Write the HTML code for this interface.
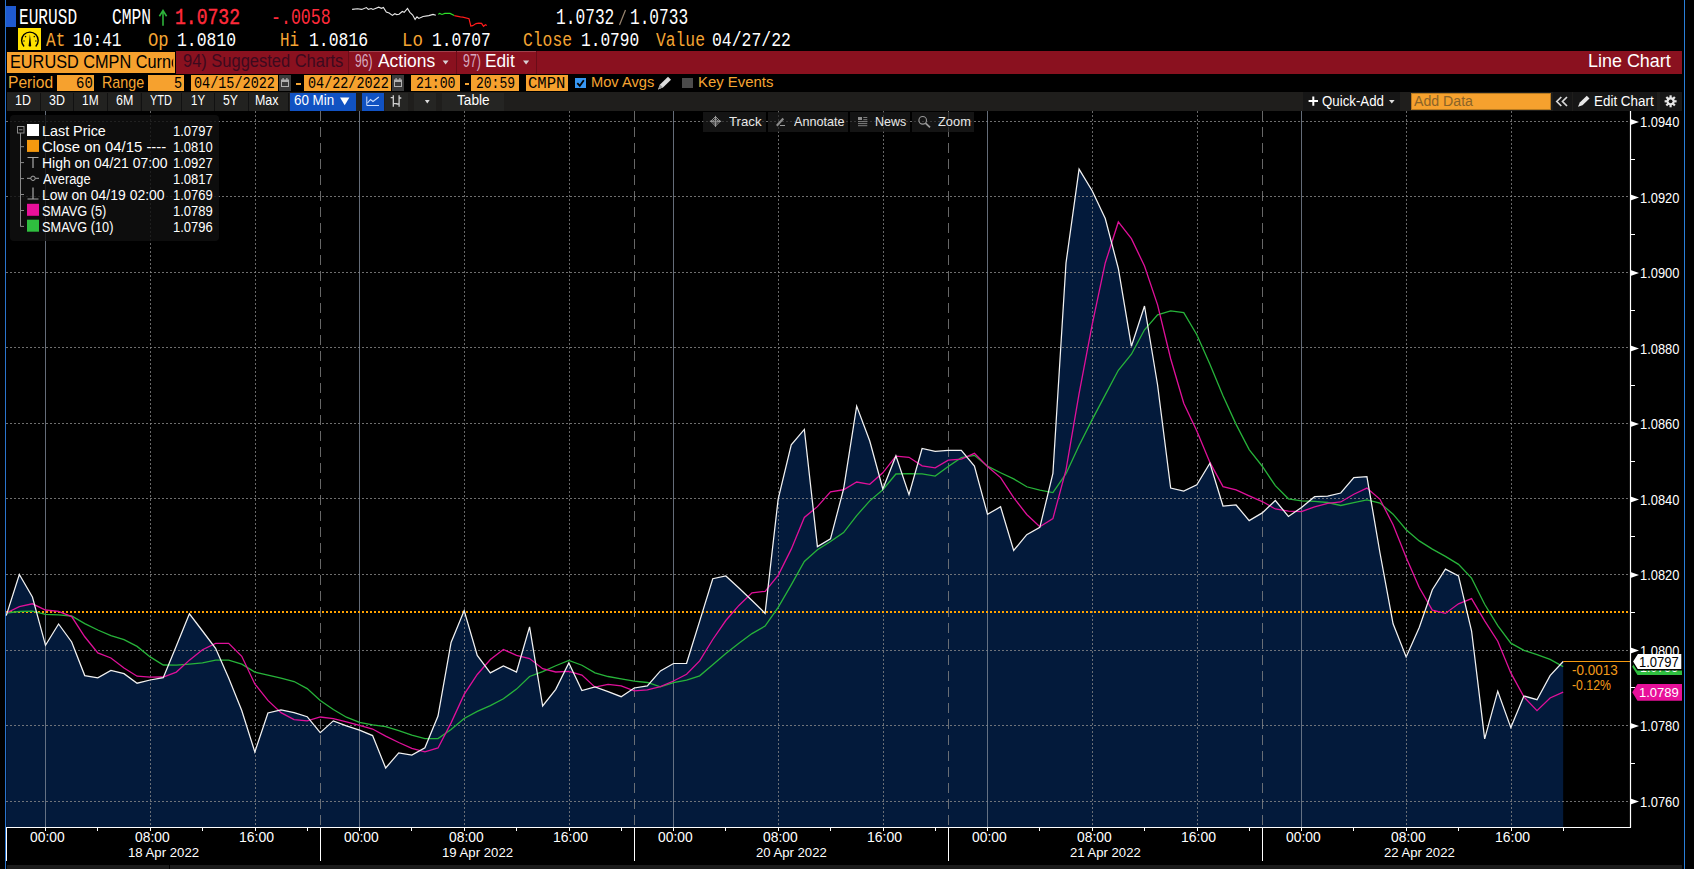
<!DOCTYPE html><html><head><meta charset="utf-8"><style>
html,body{margin:0;padding:0;background:#000;}
body{width:1694px;height:869px;position:relative;overflow:hidden;}
.r{position:absolute;}
.t{position:absolute;line-height:1;white-space:pre;transform-origin:0 0;}
</style></head><body>
<div class="r" style="left:6px;top:6px;width:10px;height:21px;background:#1f5ad0;"></div><div class="r" style="left:18px;top:28px;width:23px;height:22px;background:#ffe100;"></div><div class="r" style="left:7px;top:52px;width:168px;height:21px;background:#f6a12e;"></div><div class="r" style="left:176px;top:51px;width:1506px;height:23px;background:#8a111f;"></div><div class="r" style="left:348px;top:51px;width:1px;height:23px;background:#6a0c18;"></div><div class="r" style="left:456px;top:51px;width:1px;height:23px;background:#6a0c18;"></div><div class="r" style="left:536px;top:51px;width:1px;height:23px;background:#6a0c18;"></div><div class="r" style="left:349px;top:51px;width:107px;height:1px;background:#a0404c;"></div><div class="r" style="left:457px;top:51px;width:79px;height:1px;background:#a0404c;"></div><div class="r" style="left:57px;top:75px;width:37px;height:16px;background:#f6a12e;"></div><div class="r" style="left:148px;top:75px;width:36px;height:16px;background:#f6a12e;"></div><div class="r" style="left:191px;top:75px;width:87px;height:16px;background:#f6a12e;"></div><div class="r" style="left:304px;top:75px;width:87px;height:16px;background:#f6a12e;"></div><div class="r" style="left:411px;top:75px;width:49px;height:16px;background:#f6a12e;"></div><div class="r" style="left:471px;top:75px;width:48px;height:16px;background:#f6a12e;"></div><div class="r" style="left:526px;top:75px;width:42px;height:16px;background:#f6a12e;"></div><div class="r" style="left:279px;top:75px;width:12px;height:16px;background:#3b3b3b;"></div><div class="r" style="left:392px;top:75px;width:12px;height:16px;background:#3b3b3b;"></div><div class="r" style="left:296px;top:83px;width:5px;height:1.5px;background:#f5a533;"></div><div class="r" style="left:464.5px;top:83px;width:4.5px;height:1.5px;background:#f5a533;"></div><div class="r" style="left:575px;top:78px;width:11px;height:10px;background:#3797f2;"></div><div class="r" style="left:682px;top:78px;width:11px;height:10px;background:#4b4b4b;"></div><div class="r" style="left:7px;top:92px;width:1675px;height:19px;background:#1f1e1c;"></div><div class="r" style="left:7px;top:93px;width:32.6px;height:17.5px;background:#222220;"></div><div class="r" style="left:40.6px;top:93px;width:31.999999999999993px;height:17.5px;background:#222220;"></div><div class="r" style="left:73.6px;top:93px;width:33.2px;height:17.5px;background:#222220;"></div><div class="r" style="left:107.8px;top:93px;width:32.7px;height:17.5px;background:#222220;"></div><div class="r" style="left:141.5px;top:93px;width:39.69999999999999px;height:17.5px;background:#222220;"></div><div class="r" style="left:182.2px;top:93px;width:32.0px;height:17.5px;background:#222220;"></div><div class="r" style="left:215.2px;top:93px;width:32.70000000000002px;height:17.5px;background:#222220;"></div><div class="r" style="left:248.9px;top:93px;width:39.099999999999994px;height:17.5px;background:#222220;"></div><div class="r" style="left:39.6px;top:93px;width:1.0px;height:17.5px;background:#111;"></div><div class="r" style="left:72.6px;top:93px;width:1.0px;height:17.5px;background:#111;"></div><div class="r" style="left:106.8px;top:93px;width:1.0px;height:17.5px;background:#111;"></div><div class="r" style="left:140.5px;top:93px;width:1.0px;height:17.5px;background:#111;"></div><div class="r" style="left:181.2px;top:93px;width:1.0px;height:17.5px;background:#111;"></div><div class="r" style="left:214.2px;top:93px;width:1.0px;height:17.5px;background:#111;"></div><div class="r" style="left:247.9px;top:93px;width:1.0px;height:17.5px;background:#111;"></div><div class="r" style="left:288px;top:93px;width:1px;height:17.5px;background:#111;"></div><div class="r" style="left:290px;top:93px;width:66px;height:17.5px;background:#1152c2;"></div><div class="r" style="left:362px;top:93px;width:22px;height:17.5px;background:#1152c2;"></div><div class="r" style="left:385px;top:93px;width:23.399999999999977px;height:17.5px;background:#252523;"></div><div class="r" style="left:413.7px;top:93px;width:22.400000000000034px;height:17.5px;background:#252523;"></div><div class="r" style="left:442.3px;top:93px;width:61.69999999999999px;height:17.5px;background:#252523;"></div><div class="r" style="left:1303px;top:92px;width:97.29999999999995px;height:19px;background:#161616;"></div><div class="r" style="left:1411.2px;top:93px;width:139.39999999999986px;height:16.5px;background:#f6a12e;box-shadow:inset 0 0 0 1px #b87a20"></div><div class="r" style="left:1552.5px;top:92px;width:19.09999999999991px;height:19px;background:#161616;"></div><div class="r" style="left:1572.8px;top:92px;width:84.70000000000005px;height:19px;background:#161616;"></div><div class="r" style="left:1660px;top:92px;width:22px;height:19px;background:#161616;"></div><div class="r" style="left:5px;top:0px;width:1px;height:869px;background:#2a74cc;"></div><div class="r" style="left:1684px;top:0px;width:1px;height:869px;background:#2a7fd8;"></div><div class="r" style="left:7px;top:865px;width:162px;height:4px;background:#1c1c1c;"></div><div class="r" style="left:170px;top:865px;width:1512px;height:4px;background:#1c1c1c;"></div>
<svg class="r" style="left:0;top:0" width="1694" height="869" viewBox="0 0 1694 869"><polygon points="6.25,827 6.25,615.60 19.33,574.50 32.42,597.00 45.50,645.30 58.58,624.00 71.67,642.00 84.75,675.60 97.83,677.90 110.92,670.50 124.00,673.70 137.08,683.20 150.17,680.00 163.25,677.70 176.33,645.90 189.42,613.80 202.50,631.00 215.58,648.30 228.67,678.00 241.75,710.50 254.83,752.00 267.92,713.00 281.00,709.90 294.08,712.60 307.17,716.70 320.25,732.70 333.33,720.90 346.42,725.90 359.50,730.10 372.58,735.60 385.67,768.00 398.75,752.90 411.83,755.00 424.92,747.70 438.00,716.10 451.08,642.50 464.17,610.60 477.25,655.40 490.33,672.90 503.42,665.90 516.50,672.00 529.58,626.80 542.67,706.00 555.75,689.30 568.83,663.00 581.92,690.60 595.00,686.90 608.08,691.70 621.17,696.70 634.25,688.00 647.33,685.80 660.42,670.90 673.50,663.50 686.58,663.30 699.67,621.10 712.75,578.70 725.83,576.00 738.92,588.00 752.00,600.50 765.08,613.30 778.17,499.00 791.25,444.90 804.33,429.40 817.42,546.60 830.50,538.90 843.58,489.00 856.67,406.10 869.75,441.00 882.83,489.00 895.92,455.90 909.00,494.60 922.08,448.50 935.17,451.30 948.25,450.40 961.33,450.40 974.42,466.00 987.50,514.40 1000.58,506.80 1013.67,550.50 1026.75,534.70 1039.83,527.40 1052.92,473.50 1066.00,263.00 1079.08,169.10 1092.17,190.70 1105.25,218.50 1118.33,268.50 1131.42,346.30 1144.50,306.00 1157.58,385.00 1170.67,488.00 1183.75,491.00 1196.83,484.70 1209.92,463.20 1223.00,506.00 1236.08,505.00 1249.17,520.60 1262.25,512.90 1275.33,500.50 1288.42,516.40 1301.50,507.50 1314.58,496.70 1327.67,496.20 1340.75,493.00 1353.83,477.70 1366.92,476.60 1380.00,553.00 1393.08,623.80 1406.17,656.90 1419.25,627.50 1432.33,589.70 1445.42,569.10 1458.50,575.90 1471.58,631.00 1484.67,738.80 1497.75,691.20 1510.83,727.60 1523.92,696.00 1537.00,699.70 1550.08,675.60 1563.17,661.50 1563.17,827" fill="#031a3b"/><line x1="6" y1="801.5" x2="1630" y2="801.5" stroke="#8a8a8a" stroke-width="1" stroke-dasharray="2,2" opacity="0.8"/><line x1="6" y1="725.5" x2="1630" y2="725.5" stroke="#8a8a8a" stroke-width="1" stroke-dasharray="2,2" opacity="0.8"/><line x1="6" y1="650.5" x2="1630" y2="650.5" stroke="#8a8a8a" stroke-width="1" stroke-dasharray="2,2" opacity="0.8"/><line x1="6" y1="574.5" x2="1630" y2="574.5" stroke="#8a8a8a" stroke-width="1" stroke-dasharray="2,2" opacity="0.8"/><line x1="6" y1="498.5" x2="1630" y2="498.5" stroke="#8a8a8a" stroke-width="1" stroke-dasharray="2,2" opacity="0.8"/><line x1="6" y1="423.5" x2="1630" y2="423.5" stroke="#8a8a8a" stroke-width="1" stroke-dasharray="2,2" opacity="0.8"/><line x1="6" y1="347.5" x2="1630" y2="347.5" stroke="#8a8a8a" stroke-width="1" stroke-dasharray="2,2" opacity="0.8"/><line x1="6" y1="272.5" x2="1630" y2="272.5" stroke="#8a8a8a" stroke-width="1" stroke-dasharray="2,2" opacity="0.8"/><line x1="6" y1="196.5" x2="1630" y2="196.5" stroke="#8a8a8a" stroke-width="1" stroke-dasharray="2,2" opacity="0.8"/><line x1="6" y1="121.5" x2="1630" y2="121.5" stroke="#8a8a8a" stroke-width="1" stroke-dasharray="2,2" opacity="0.8"/><line x1="45.5" y1="111" x2="45.5" y2="827" stroke="#7d8796" stroke-width="1" opacity="0.8"/><line x1="150.5" y1="111" x2="150.5" y2="827" stroke="#8a8a8a" stroke-width="1" stroke-dasharray="2,2" opacity="0.75"/><line x1="255.5" y1="111" x2="255.5" y2="827" stroke="#8a8a8a" stroke-width="1" stroke-dasharray="2,2" opacity="0.75"/><line x1="359.5" y1="111" x2="359.5" y2="827" stroke="#7d8796" stroke-width="1" opacity="0.8"/><line x1="464.5" y1="111" x2="464.5" y2="827" stroke="#8a8a8a" stroke-width="1" stroke-dasharray="2,2" opacity="0.75"/><line x1="569.5" y1="111" x2="569.5" y2="827" stroke="#8a8a8a" stroke-width="1" stroke-dasharray="2,2" opacity="0.75"/><line x1="673.5" y1="111" x2="673.5" y2="827" stroke="#7d8796" stroke-width="1" opacity="0.8"/><line x1="778.5" y1="111" x2="778.5" y2="827" stroke="#8a8a8a" stroke-width="1" stroke-dasharray="2,2" opacity="0.75"/><line x1="883.5" y1="111" x2="883.5" y2="827" stroke="#8a8a8a" stroke-width="1" stroke-dasharray="2,2" opacity="0.75"/><line x1="987.5" y1="111" x2="987.5" y2="827" stroke="#7d8796" stroke-width="1" opacity="0.8"/><line x1="1092.5" y1="111" x2="1092.5" y2="827" stroke="#8a8a8a" stroke-width="1" stroke-dasharray="2,2" opacity="0.75"/><line x1="1197.5" y1="111" x2="1197.5" y2="827" stroke="#8a8a8a" stroke-width="1" stroke-dasharray="2,2" opacity="0.75"/><line x1="1301.5" y1="111" x2="1301.5" y2="827" stroke="#7d8796" stroke-width="1" opacity="0.8"/><line x1="1406.5" y1="111" x2="1406.5" y2="827" stroke="#8a8a8a" stroke-width="1" stroke-dasharray="2,2" opacity="0.75"/><line x1="1511.5" y1="111" x2="1511.5" y2="827" stroke="#8a8a8a" stroke-width="1" stroke-dasharray="2,2" opacity="0.75"/><line x1="320.5" y1="111" x2="320.5" y2="827" stroke="#8a8a8a" stroke-width="1" stroke-dasharray="10,6" opacity="0.75"/><line x1="634.5" y1="111" x2="634.5" y2="827" stroke="#8a8a8a" stroke-width="1" stroke-dasharray="10,6" opacity="0.75"/><line x1="948.5" y1="111" x2="948.5" y2="827" stroke="#8a8a8a" stroke-width="1" stroke-dasharray="10,6" opacity="0.75"/><line x1="1262.5" y1="111" x2="1262.5" y2="827" stroke="#8a8a8a" stroke-width="1" stroke-dasharray="10,6" opacity="0.75"/><line x1="6" y1="612" x2="1630" y2="612" stroke="#ffa200" stroke-width="2" stroke-dasharray="2,2"/><polyline points="6.25,613.00 19.33,611.50 32.42,611.20 45.50,614.40 58.58,614.80 71.67,616.00 84.75,623.60 97.83,630.00 110.92,635.70 124.00,639.61 137.08,646.37 150.17,656.92 163.25,664.99 176.33,665.05 189.42,664.03 202.50,662.93 215.58,660.20 228.67,660.21 241.75,664.21 254.83,672.04 267.92,675.02 281.00,678.01 294.08,681.50 307.17,688.58 320.25,700.47 333.33,709.46 346.42,717.22 359.50,722.43 372.58,724.94 385.67,726.54 398.75,730.53 411.83,735.04 424.92,738.55 438.00,738.49 451.08,729.47 464.17,718.44 477.25,711.39 490.33,705.67 503.42,698.70 516.50,689.10 529.58,676.49 542.67,671.59 555.75,665.75 568.83,660.44 581.92,665.25 595.00,672.88 608.08,676.51 621.17,678.89 634.25,681.10 647.33,682.48 660.42,686.89 673.50,682.64 686.58,680.04 699.67,675.85 712.75,664.66 725.83,653.57 738.92,643.20 752.00,633.58 765.08,626.11 778.17,607.43 791.25,584.83 804.33,561.42 817.42,549.75 830.50,541.53 843.58,532.56 856.67,515.57 869.75,500.87 882.83,489.72 895.92,473.98 909.00,473.54 922.08,473.90 935.17,476.09 948.25,466.47 961.33,457.62 974.42,455.32 987.50,466.15 1000.58,472.73 1013.67,478.88 1026.75,486.76 1039.83,490.04 1052.92,492.54 1066.00,473.71 1079.08,445.58 1092.17,419.61 1105.25,394.86 1118.33,370.27 1131.42,354.22 1144.50,329.77 1157.58,314.80 1170.67,310.86 1183.75,312.61 1196.83,334.78 1209.92,364.19 1223.00,395.72 1236.08,424.37 1249.17,449.58 1262.25,466.24 1275.33,485.69 1288.42,498.83 1301.50,500.78 1314.58,501.35 1327.67,502.50 1340.75,505.48 1353.83,502.65 1366.92,499.81 1380.00,503.05 1393.08,514.14 1406.17,529.78 1419.25,540.89 1432.33,549.11 1445.42,556.35 1458.50,564.32 1471.58,578.12 1484.67,604.23 1497.75,625.69 1510.83,643.15 1523.92,650.37 1537.00,654.65 1550.08,659.46 1563.17,666.64" fill="none" stroke="#27b33a" stroke-width="1.3"/><polyline points="6.25,613.00 19.33,606.70 32.42,603.80 45.50,610.00 58.58,611.28 71.67,616.56 84.75,636.78 97.83,652.96 110.92,658.00 124.00,667.94 137.08,676.18 150.17,677.06 163.25,677.02 176.33,672.10 189.42,660.12 202.50,649.68 215.58,643.34 228.67,643.40 241.75,656.32 254.83,683.96 267.92,700.36 281.00,712.68 294.08,719.60 307.17,720.84 320.25,716.98 333.33,718.56 346.42,721.76 359.50,725.26 372.58,729.04 385.67,736.10 398.75,742.50 411.83,748.32 424.92,751.84 438.00,747.94 451.08,722.84 464.17,694.38 477.25,674.46 490.33,659.50 503.42,649.46 516.50,655.36 529.58,658.60 542.67,668.72 555.75,672.00 568.83,671.42 581.92,675.14 595.00,687.16 608.08,684.30 621.17,685.78 634.25,690.78 647.33,689.82 660.42,686.62 673.50,680.98 686.58,674.30 699.67,660.92 712.75,639.50 725.83,620.52 738.92,605.42 752.00,592.86 765.08,591.30 778.17,575.36 791.25,549.14 804.33,517.42 817.42,506.64 830.50,491.76 843.58,489.76 856.67,482.00 869.75,484.32 882.83,472.80 895.92,456.20 909.00,457.32 922.08,465.80 935.17,467.86 948.25,460.14 961.33,459.04 974.42,453.32 987.50,466.50 1000.58,477.60 1013.67,497.62 1026.75,514.48 1039.83,526.76 1052.92,518.58 1066.00,469.82 1079.08,393.54 1092.17,324.74 1105.25,262.96 1118.33,221.96 1131.42,238.62 1144.50,266.00 1157.58,304.86 1170.67,358.76 1183.75,403.26 1196.83,430.94 1209.92,462.38 1223.00,486.58 1236.08,489.98 1249.17,495.90 1262.25,501.54 1275.33,509.00 1288.42,511.08 1301.50,511.58 1314.58,506.80 1327.67,503.46 1340.75,501.96 1353.83,494.22 1366.92,488.04 1380.00,499.30 1393.08,524.82 1406.17,557.60 1419.25,587.56 1432.33,610.18 1445.42,613.40 1458.50,603.82 1471.58,598.64 1484.67,620.90 1497.75,641.20 1510.83,672.90 1523.92,696.92 1537.00,710.66 1550.08,698.02 1563.17,692.08" fill="none" stroke="#e0109a" stroke-width="1.3"/><polyline points="6.25,615.60 19.33,574.50 32.42,597.00 45.50,645.30 58.58,624.00 71.67,642.00 84.75,675.60 97.83,677.90 110.92,670.50 124.00,673.70 137.08,683.20 150.17,680.00 163.25,677.70 176.33,645.90 189.42,613.80 202.50,631.00 215.58,648.30 228.67,678.00 241.75,710.50 254.83,752.00 267.92,713.00 281.00,709.90 294.08,712.60 307.17,716.70 320.25,732.70 333.33,720.90 346.42,725.90 359.50,730.10 372.58,735.60 385.67,768.00 398.75,752.90 411.83,755.00 424.92,747.70 438.00,716.10 451.08,642.50 464.17,610.60 477.25,655.40 490.33,672.90 503.42,665.90 516.50,672.00 529.58,626.80 542.67,706.00 555.75,689.30 568.83,663.00 581.92,690.60 595.00,686.90 608.08,691.70 621.17,696.70 634.25,688.00 647.33,685.80 660.42,670.90 673.50,663.50 686.58,663.30 699.67,621.10 712.75,578.70 725.83,576.00 738.92,588.00 752.00,600.50 765.08,613.30 778.17,499.00 791.25,444.90 804.33,429.40 817.42,546.60 830.50,538.90 843.58,489.00 856.67,406.10 869.75,441.00 882.83,489.00 895.92,455.90 909.00,494.60 922.08,448.50 935.17,451.30 948.25,450.40 961.33,450.40 974.42,466.00 987.50,514.40 1000.58,506.80 1013.67,550.50 1026.75,534.70 1039.83,527.40 1052.92,473.50 1066.00,263.00 1079.08,169.10 1092.17,190.70 1105.25,218.50 1118.33,268.50 1131.42,346.30 1144.50,306.00 1157.58,385.00 1170.67,488.00 1183.75,491.00 1196.83,484.70 1209.92,463.20 1223.00,506.00 1236.08,505.00 1249.17,520.60 1262.25,512.90 1275.33,500.50 1288.42,516.40 1301.50,507.50 1314.58,496.70 1327.67,496.20 1340.75,493.00 1353.83,477.70 1366.92,476.60 1380.00,553.00 1393.08,623.80 1406.17,656.90 1419.25,627.50 1432.33,589.70 1445.42,569.10 1458.50,575.90 1471.58,631.00 1484.67,738.80 1497.75,691.20 1510.83,727.60 1523.92,696.00 1537.00,699.70 1550.08,675.60 1563.17,661.50" fill="none" stroke="#f2f2f2" stroke-width="1.25"/><line x1="1563.17" y1="661.5" x2="1630" y2="661.5" stroke="#f59a10" stroke-width="1.2"/><line x1="1630.5" y1="111" x2="1630.5" y2="827.5" stroke="#fff" stroke-width="1.2"/><line x1="6" y1="827.5" x2="1631" y2="827.5" stroke="#fff" stroke-width="1.2"/><polygon points="1630.5,798.5 1639,801.5 1630.5,804.5" fill="#fff"/><polygon points="1630.5,723.0 1639,726.0 1630.5,729.0" fill="#fff"/><polygon points="1630.5,647.5 1639,650.5 1630.5,653.5" fill="#fff"/><polygon points="1630.5,572.0 1639,575.0 1630.5,578.0" fill="#fff"/><polygon points="1630.5,496.5 1639,499.5 1630.5,502.5" fill="#fff"/><polygon points="1630.5,421.0 1639,424.0 1630.5,427.0" fill="#fff"/><polygon points="1630.5,345.5 1639,348.5 1630.5,351.5" fill="#fff"/><polygon points="1630.5,270.0 1639,273.0 1630.5,276.0" fill="#fff"/><polygon points="1630.5,194.5 1639,197.5 1630.5,200.5" fill="#fff"/><polygon points="1630.5,119.0 1639,122.0 1630.5,125.0" fill="#fff"/><line x1="1630" y1="763.5" x2="1635" y2="763.5" stroke="#fff" stroke-width="1"/><line x1="1630" y1="687.5" x2="1635" y2="687.5" stroke="#fff" stroke-width="1"/><line x1="1630" y1="612.5" x2="1635" y2="612.5" stroke="#fff" stroke-width="1"/><line x1="1630" y1="536.5" x2="1635" y2="536.5" stroke="#fff" stroke-width="1"/><line x1="1630" y1="461.5" x2="1635" y2="461.5" stroke="#fff" stroke-width="1"/><line x1="1630" y1="385.5" x2="1635" y2="385.5" stroke="#fff" stroke-width="1"/><line x1="1630" y1="310.5" x2="1635" y2="310.5" stroke="#fff" stroke-width="1"/><line x1="1630" y1="234.5" x2="1635" y2="234.5" stroke="#fff" stroke-width="1"/><line x1="1630" y1="159.5" x2="1635" y2="159.5" stroke="#fff" stroke-width="1"/><line x1="45.5" y1="827" x2="45.5" y2="831" stroke="#fff" stroke-width="1"/><line x1="97.5" y1="827" x2="97.5" y2="831" stroke="#fff" stroke-width="1"/><line x1="150.5" y1="827" x2="150.5" y2="831" stroke="#fff" stroke-width="1"/><line x1="202.5" y1="827" x2="202.5" y2="831" stroke="#fff" stroke-width="1"/><line x1="255.5" y1="827" x2="255.5" y2="831" stroke="#fff" stroke-width="1"/><line x1="307.5" y1="827" x2="307.5" y2="831" stroke="#fff" stroke-width="1"/><line x1="359.5" y1="827" x2="359.5" y2="831" stroke="#fff" stroke-width="1"/><line x1="411.5" y1="827" x2="411.5" y2="831" stroke="#fff" stroke-width="1"/><line x1="464.5" y1="827" x2="464.5" y2="831" stroke="#fff" stroke-width="1"/><line x1="516.5" y1="827" x2="516.5" y2="831" stroke="#fff" stroke-width="1"/><line x1="569.5" y1="827" x2="569.5" y2="831" stroke="#fff" stroke-width="1"/><line x1="621.5" y1="827" x2="621.5" y2="831" stroke="#fff" stroke-width="1"/><line x1="673.5" y1="827" x2="673.5" y2="831" stroke="#fff" stroke-width="1"/><line x1="725.5" y1="827" x2="725.5" y2="831" stroke="#fff" stroke-width="1"/><line x1="778.5" y1="827" x2="778.5" y2="831" stroke="#fff" stroke-width="1"/><line x1="830.5" y1="827" x2="830.5" y2="831" stroke="#fff" stroke-width="1"/><line x1="883.5" y1="827" x2="883.5" y2="831" stroke="#fff" stroke-width="1"/><line x1="935.5" y1="827" x2="935.5" y2="831" stroke="#fff" stroke-width="1"/><line x1="987.5" y1="827" x2="987.5" y2="831" stroke="#fff" stroke-width="1"/><line x1="1039.5" y1="827" x2="1039.5" y2="831" stroke="#fff" stroke-width="1"/><line x1="1092.5" y1="827" x2="1092.5" y2="831" stroke="#fff" stroke-width="1"/><line x1="1144.5" y1="827" x2="1144.5" y2="831" stroke="#fff" stroke-width="1"/><line x1="1197.5" y1="827" x2="1197.5" y2="831" stroke="#fff" stroke-width="1"/><line x1="1249.5" y1="827" x2="1249.5" y2="831" stroke="#fff" stroke-width="1"/><line x1="1301.5" y1="827" x2="1301.5" y2="831" stroke="#fff" stroke-width="1"/><line x1="1353.5" y1="827" x2="1353.5" y2="831" stroke="#fff" stroke-width="1"/><line x1="1406.5" y1="827" x2="1406.5" y2="831" stroke="#fff" stroke-width="1"/><line x1="1458.5" y1="827" x2="1458.5" y2="831" stroke="#fff" stroke-width="1"/><line x1="1511.5" y1="827" x2="1511.5" y2="831" stroke="#fff" stroke-width="1"/><line x1="1563.5" y1="827" x2="1563.5" y2="831" stroke="#fff" stroke-width="1"/><line x1="6.5" y1="827" x2="6.5" y2="861" stroke="#fff" stroke-width="1"/><line x1="320.5" y1="827" x2="320.5" y2="861" stroke="#fff" stroke-width="1"/><line x1="634.5" y1="827" x2="634.5" y2="861" stroke="#fff" stroke-width="1"/><line x1="948.5" y1="827" x2="948.5" y2="861" stroke="#fff" stroke-width="1"/><line x1="1262.5" y1="827" x2="1262.5" y2="861" stroke="#fff" stroke-width="1"/><polygon points="1632.2,666.8 1637.5,658.5 1682,658.5 1682,675.0 1637.5,675.0" fill="#2fbf3f" /><text x="1640" y="672.3" font-family="Liberation Sans" font-size="13.6" fill="#fff" textLength="38" lengthAdjust="spacingAndGlyphs">1.0796</text><polygon points="1632.2,661.5 1637.5,653.3 1682,653.3 1682,669.8 1637.5,669.8" fill="#ffffff" stroke="#000" stroke-width="1.4"/><polygon points="1632.2,692.3 1637.5,683.9 1682,683.9 1682,700.8 1637.5,700.8" fill="#e8109a" /></svg>
<div class="r" style="left:10px;top:115px;width:209px;height:126px;background:rgba(16,16,16,0.82);border-radius:4px"></div><div class="r" style="left:702.9px;top:112.2px;width:63.10000000000002px;height:19.6px;background:rgba(30,30,30,0.68)"></div><div class="r" style="left:768px;top:112.2px;width:79.79999999999995px;height:19.6px;background:rgba(30,30,30,0.68)"></div><div class="r" style="left:850.3px;top:112.2px;width:59.5px;height:19.6px;background:rgba(30,30,30,0.68)"></div><div class="r" style="left:912.1px;top:112.2px;width:62.0px;height:19.6px;background:rgba(30,30,30,0.68)"></div>
<div class="t" style="left:18.71px;top:7.83px;font-family:'Liberation Mono';font-size:21.67px;font-weight:400;color:#fff;transform:scaleX(0.7448);">EURUSD</div><div class="t" style="left:112.19px;top:7.83px;font-family:'Liberation Mono';font-size:21.67px;font-weight:400;color:#fff;transform:scaleX(0.7523);">CMPN</div><div class="t" style="left:175.24px;top:7.83px;font-family:'Liberation Mono';font-size:21.67px;font-weight:400;color:#ff2b3b;transform:scaleX(0.8337);-webkit-text-stroke:0.45px #ff2b3b;">1.0732</div><div class="t" style="left:271.35px;top:7.83px;font-family:'Liberation Mono';font-size:21.67px;font-weight:400;color:#ff2b3b;transform:scaleX(0.7647);">-.0058</div><div class="t" style="left:556.17px;top:7.83px;font-family:'Liberation Mono';font-size:21.67px;font-weight:400;color:#fff;transform:scaleX(0.7483);">1.0732</div><div class="t" style="left:629.87px;top:7.83px;font-family:'Liberation Mono';font-size:21.67px;font-weight:400;color:#fff;transform:scaleX(0.7448);">1.0733</div><div class="t" style="left:45.50px;top:30.91px;font-family:'Liberation Mono';font-size:20.91px;font-weight:400;color:#f5a533;transform:scaleX(0.7696);">At</div><div class="t" style="left:72.67px;top:30.91px;font-family:'Liberation Mono';font-size:20.91px;font-weight:400;color:#fff;transform:scaleX(0.7739);">10:41</div><div class="t" style="left:148.14px;top:30.91px;font-family:'Liberation Mono';font-size:20.91px;font-weight:400;color:#f5a533;transform:scaleX(0.8237);">Op</div><div class="t" style="left:176.85px;top:30.91px;font-family:'Liberation Mono';font-size:20.91px;font-weight:400;color:#fff;transform:scaleX(0.7856);">1.0810</div><div class="t" style="left:279.73px;top:30.91px;font-family:'Liberation Mono';font-size:20.91px;font-weight:400;color:#f5a533;transform:scaleX(0.7599);">Hi</div><div class="t" style="left:308.85px;top:30.91px;font-family:'Liberation Mono';font-size:20.91px;font-weight:400;color:#fff;transform:scaleX(0.7856);">1.0816</div><div class="t" style="left:401.68px;top:30.91px;font-family:'Liberation Mono';font-size:20.91px;font-weight:400;color:#f5a533;transform:scaleX(0.8358);">Lo</div><div class="t" style="left:431.66px;top:30.91px;font-family:'Liberation Mono';font-size:20.91px;font-weight:400;color:#fff;transform:scaleX(0.7805);">1.0707</div><div class="t" style="left:523.48px;top:30.91px;font-family:'Liberation Mono';font-size:20.91px;font-weight:400;color:#f5a533;transform:scaleX(0.7811);">Close</div><div class="t" style="left:580.97px;top:30.91px;font-family:'Liberation Mono';font-size:20.91px;font-weight:400;color:#fff;transform:scaleX(0.7732);">1.0790</div><div class="t" style="left:655.74px;top:30.91px;font-family:'Liberation Mono';font-size:20.91px;font-weight:400;color:#f5a533;transform:scaleX(0.7802);">Value</div><div class="t" style="left:712.11px;top:30.91px;font-family:'Liberation Mono';font-size:20.91px;font-weight:400;color:#fff;transform:scaleX(0.7865);">04/27/22</div><div class="t" style="left:9.70px;top:52.69px;font-family:'Liberation Sans';font-size:18.84px;font-weight:400;color:#000;transform:scaleX(0.8648);">EURUSD CMPN Curnc</div><div class="t" style="left:182.68px;top:52.10px;font-family:'Liberation Sans';font-size:18.12px;font-weight:400;color:#3c0a1e;transform:scaleX(0.9093);">94) Suggested Charts</div><div class="t" style="left:355.40px;top:52.10px;font-family:'Liberation Sans';font-size:18.12px;font-weight:400;color:#d6a9c0;transform:scaleX(0.6641);">96)</div><div class="t" style="left:377.70px;top:52.10px;font-family:'Liberation Sans';font-size:18.12px;font-weight:400;color:#fff;transform:scaleX(0.9613);">Actions</div><div class="t" style="left:462.68px;top:52.10px;font-family:'Liberation Sans';font-size:18.12px;font-weight:400;color:#d6a9c0;transform:scaleX(0.6848);">97)</div><div class="t" style="left:484.92px;top:52.10px;font-family:'Liberation Sans';font-size:18.12px;font-weight:400;color:#fff;transform:scaleX(0.9525);">Edit</div><div class="t" style="left:1587.56px;top:52.48px;font-family:'Liberation Sans';font-size:18.26px;font-weight:400;color:#fff;transform:scaleX(0.9828);">Line Chart</div><div class="t" style="left:7.75px;top:73.68px;font-family:'Liberation Sans';font-size:16.38px;font-weight:400;color:#f5a533;transform:scaleX(0.9548);">Period</div><div class="t" style="left:75.52px;top:74.59px;font-family:'Liberation Mono';font-size:17.12px;font-weight:400;color:#000;transform:scaleX(0.8188);">60</div><div class="t" style="left:101.55px;top:73.68px;font-family:'Liberation Sans';font-size:16.38px;font-weight:400;color:#f5a533;transform:scaleX(0.8748);">Range</div><div class="t" style="left:173.89px;top:74.59px;font-family:'Liberation Mono';font-size:17.12px;font-weight:400;color:#000;transform:scaleX(0.7909);">5</div><div class="t" style="left:194.49px;top:74.59px;font-family:'Liberation Mono';font-size:17.12px;font-weight:400;color:#000;transform:scaleX(0.7880);">04/15/2022</div><div class="t" style="left:307.89px;top:74.59px;font-family:'Liberation Mono';font-size:17.12px;font-weight:400;color:#000;transform:scaleX(0.7861);">04/22/2022</div><div class="t" style="left:415.68px;top:74.59px;font-family:'Liberation Mono';font-size:17.12px;font-weight:400;color:#000;transform:scaleX(0.7693);">21:00</div><div class="t" style="left:475.89px;top:74.59px;font-family:'Liberation Mono';font-size:17.12px;font-weight:400;color:#000;transform:scaleX(0.7597);">20:59</div><div class="t" style="left:528.02px;top:74.59px;font-family:'Liberation Mono';font-size:17.12px;font-weight:400;color:#000;transform:scaleX(0.9108);">CMPN</div><div class="t" style="left:591.43px;top:74.61px;font-family:'Liberation Sans';font-size:14.93px;font-weight:400;color:#f5a533;transform:scaleX(0.9825);">Mov Avgs</div><div class="t" style="left:698.31px;top:74.61px;font-family:'Liberation Sans';font-size:14.93px;font-weight:400;color:#f5a533;transform:scaleX(0.9994);">Key Events</div><div class="t" style="left:15.12px;top:93.46px;font-family:'Liberation Sans';font-size:14.64px;font-weight:400;color:#fff;transform:scaleX(0.8540);">1D</div><div class="t" style="left:48.50px;top:93.46px;font-family:'Liberation Sans';font-size:14.64px;font-weight:400;color:#fff;transform:scaleX(0.8497);">3D</div><div class="t" style="left:82.36px;top:93.46px;font-family:'Liberation Sans';font-size:14.64px;font-weight:400;color:#fff;transform:scaleX(0.8154);">1M</div><div class="t" style="left:115.68px;top:93.46px;font-family:'Liberation Sans';font-size:14.64px;font-weight:400;color:#fff;transform:scaleX(0.8512);">6M</div><div class="t" style="left:150.28px;top:93.46px;font-family:'Liberation Sans';font-size:14.64px;font-weight:400;color:#fff;transform:scaleX(0.7540);">YTD</div><div class="t" style="left:190.99px;top:93.46px;font-family:'Liberation Sans';font-size:14.64px;font-weight:400;color:#fff;transform:scaleX(0.7859);">1Y</div><div class="t" style="left:223.21px;top:93.46px;font-family:'Liberation Sans';font-size:14.64px;font-weight:400;color:#fff;transform:scaleX(0.8363);">5Y</div><div class="t" style="left:255.20px;top:93.46px;font-family:'Liberation Sans';font-size:14.64px;font-weight:400;color:#fff;transform:scaleX(0.8502);">Max</div><div class="t" style="left:293.83px;top:93.46px;font-family:'Liberation Sans';font-size:14.64px;font-weight:400;color:#fff;transform:scaleX(0.9148);">60 Min</div><div class="t" style="left:457.13px;top:93.46px;font-family:'Liberation Sans';font-size:14.64px;font-weight:400;color:#fff;transform:scaleX(0.9324);">Table</div><div class="t" style="left:1321.54px;top:93.24px;font-family:'Liberation Sans';font-size:15.36px;font-weight:400;color:#fff;transform:scaleX(0.8641);">Quick-Add</div><div class="t" style="left:1413.60px;top:93.24px;font-family:'Liberation Sans';font-size:15.36px;font-weight:400;color:#8a6428;transform:scaleX(0.9210);">Add Data</div><div class="t" style="left:1594.43px;top:93.24px;font-family:'Liberation Sans';font-size:15.36px;font-weight:400;color:#fff;transform:scaleX(0.8734);">Edit Chart</div><div class="t" style="left:729.04px;top:114.59px;font-family:'Liberation Sans';font-size:13.19px;font-weight:400;color:#e8e8e8;transform:scaleX(1.0006);">Track</div><div class="t" style="left:794.00px;top:114.59px;font-family:'Liberation Sans';font-size:13.19px;font-weight:400;color:#e8e8e8;transform:scaleX(0.9574);">Annotate</div><div class="t" style="left:875.20px;top:114.59px;font-family:'Liberation Sans';font-size:13.19px;font-weight:400;color:#e8e8e8;transform:scaleX(0.9454);">News</div><div class="t" style="left:937.81px;top:114.59px;font-family:'Liberation Sans';font-size:13.19px;font-weight:400;color:#e8e8e8;transform:scaleX(0.9740);">Zoom</div><div class="t" style="left:41.85px;top:124.87px;font-family:'Liberation Sans';font-size:13.91px;font-weight:400;color:#fff;transform:scaleX(1.0315);">Last Price</div><div class="t" style="left:172.69px;top:124.87px;font-family:'Liberation Sans';font-size:13.91px;font-weight:400;color:#fff;transform:scaleX(0.9363);">1.0797</div><div class="t" style="left:42.25px;top:140.82px;font-family:'Liberation Sans';font-size:13.91px;font-weight:400;color:#fff;transform:scaleX(1.0716);">Close on 04/15 ----</div><div class="t" style="left:172.69px;top:140.82px;font-family:'Liberation Sans';font-size:13.91px;font-weight:400;color:#fff;transform:scaleX(0.9332);">1.0810</div><div class="t" style="left:41.88px;top:156.77px;font-family:'Liberation Sans';font-size:13.91px;font-weight:400;color:#fff;transform:scaleX(1.0025);">High on 04/21 07:00</div><div class="t" style="left:172.69px;top:156.77px;font-family:'Liberation Sans';font-size:13.91px;font-weight:400;color:#fff;transform:scaleX(0.9363);">1.0927</div><div class="t" style="left:43.00px;top:172.72px;font-family:'Liberation Sans';font-size:13.91px;font-weight:400;color:#fff;transform:scaleX(0.9230);">Average</div><div class="t" style="left:172.69px;top:172.72px;font-family:'Liberation Sans';font-size:13.91px;font-weight:400;color:#fff;transform:scaleX(0.9363);">1.0817</div><div class="t" style="left:41.88px;top:188.67px;font-family:'Liberation Sans';font-size:13.91px;font-weight:400;color:#fff;transform:scaleX(1.0031);">Low on 04/19 02:00</div><div class="t" style="left:172.69px;top:188.67px;font-family:'Liberation Sans';font-size:13.91px;font-weight:400;color:#fff;transform:scaleX(0.9363);">1.0769</div><div class="t" style="left:42.36px;top:204.62px;font-family:'Liberation Sans';font-size:13.91px;font-weight:400;color:#fff;transform:scaleX(0.9185);">SMAVG (5)</div><div class="t" style="left:172.69px;top:204.62px;font-family:'Liberation Sans';font-size:13.91px;font-weight:400;color:#fff;transform:scaleX(0.9363);">1.0789</div><div class="t" style="left:42.36px;top:220.57px;font-family:'Liberation Sans';font-size:13.91px;font-weight:400;color:#fff;transform:scaleX(0.9181);">SMAVG (10)</div><div class="t" style="left:172.69px;top:220.57px;font-family:'Liberation Sans';font-size:13.91px;font-weight:400;color:#fff;transform:scaleX(0.9332);">1.0796</div><div class="t" style="left:1640.10px;top:794.75px;font-family:'Liberation Sans';font-size:14.06px;font-weight:400;color:#fff;transform:scaleX(0.9163);">1.0760</div><div class="t" style="left:1640.10px;top:719.25px;font-family:'Liberation Sans';font-size:14.06px;font-weight:400;color:#fff;transform:scaleX(0.9163);">1.0780</div><div class="t" style="left:1640.10px;top:643.75px;font-family:'Liberation Sans';font-size:14.06px;font-weight:400;color:#fff;transform:scaleX(0.9163);">1.0800</div><div class="t" style="left:1640.10px;top:568.25px;font-family:'Liberation Sans';font-size:14.06px;font-weight:400;color:#fff;transform:scaleX(0.9163);">1.0820</div><div class="t" style="left:1640.10px;top:492.75px;font-family:'Liberation Sans';font-size:14.06px;font-weight:400;color:#fff;transform:scaleX(0.9163);">1.0840</div><div class="t" style="left:1640.10px;top:417.25px;font-family:'Liberation Sans';font-size:14.06px;font-weight:400;color:#fff;transform:scaleX(0.9163);">1.0860</div><div class="t" style="left:1640.10px;top:341.75px;font-family:'Liberation Sans';font-size:14.06px;font-weight:400;color:#fff;transform:scaleX(0.9163);">1.0880</div><div class="t" style="left:1640.10px;top:266.25px;font-family:'Liberation Sans';font-size:14.06px;font-weight:400;color:#fff;transform:scaleX(0.9163);">1.0900</div><div class="t" style="left:1640.10px;top:190.75px;font-family:'Liberation Sans';font-size:14.06px;font-weight:400;color:#fff;transform:scaleX(0.9163);">1.0920</div><div class="t" style="left:1640.10px;top:115.25px;font-family:'Liberation Sans';font-size:14.06px;font-weight:400;color:#fff;transform:scaleX(0.9163);">1.0940</div><div class="t" style="left:29.65px;top:830.80px;font-family:'Liberation Sans';font-size:13.77px;font-weight:400;color:#fff;transform:scaleX(1.0043);">00:00</div><div class="t" style="left:134.65px;top:830.80px;font-family:'Liberation Sans';font-size:13.77px;font-weight:400;color:#fff;transform:scaleX(1.0043);">08:00</div><div class="t" style="left:239.22px;top:830.80px;font-family:'Liberation Sans';font-size:13.77px;font-weight:400;color:#fff;transform:scaleX(1.0168);">16:00</div><div class="t" style="left:127.53px;top:846.32px;font-family:'Liberation Sans';font-size:13.62px;font-weight:400;color:#fff;transform:scaleX(0.9676);">18 Apr 2022</div><div class="t" style="left:343.65px;top:830.80px;font-family:'Liberation Sans';font-size:13.77px;font-weight:400;color:#fff;transform:scaleX(1.0043);">00:00</div><div class="t" style="left:448.65px;top:830.80px;font-family:'Liberation Sans';font-size:13.77px;font-weight:400;color:#fff;transform:scaleX(1.0043);">08:00</div><div class="t" style="left:553.22px;top:830.80px;font-family:'Liberation Sans';font-size:13.77px;font-weight:400;color:#fff;transform:scaleX(1.0168);">16:00</div><div class="t" style="left:441.53px;top:846.32px;font-family:'Liberation Sans';font-size:13.62px;font-weight:400;color:#fff;transform:scaleX(0.9676);">19 Apr 2022</div><div class="t" style="left:657.65px;top:830.80px;font-family:'Liberation Sans';font-size:13.77px;font-weight:400;color:#fff;transform:scaleX(1.0043);">00:00</div><div class="t" style="left:762.65px;top:830.80px;font-family:'Liberation Sans';font-size:13.77px;font-weight:400;color:#fff;transform:scaleX(1.0043);">08:00</div><div class="t" style="left:867.22px;top:830.80px;font-family:'Liberation Sans';font-size:13.77px;font-weight:400;color:#fff;transform:scaleX(1.0168);">16:00</div><div class="t" style="left:755.79px;top:846.32px;font-family:'Liberation Sans';font-size:13.62px;font-weight:400;color:#fff;transform:scaleX(0.9640);">20 Apr 2022</div><div class="t" style="left:971.65px;top:830.80px;font-family:'Liberation Sans';font-size:13.77px;font-weight:400;color:#fff;transform:scaleX(1.0043);">00:00</div><div class="t" style="left:1076.65px;top:830.80px;font-family:'Liberation Sans';font-size:13.77px;font-weight:400;color:#fff;transform:scaleX(1.0043);">08:00</div><div class="t" style="left:1181.22px;top:830.80px;font-family:'Liberation Sans';font-size:13.77px;font-weight:400;color:#fff;transform:scaleX(1.0168);">16:00</div><div class="t" style="left:1069.79px;top:846.32px;font-family:'Liberation Sans';font-size:13.62px;font-weight:400;color:#fff;transform:scaleX(0.9640);">21 Apr 2022</div><div class="t" style="left:1285.65px;top:830.80px;font-family:'Liberation Sans';font-size:13.77px;font-weight:400;color:#fff;transform:scaleX(1.0043);">00:00</div><div class="t" style="left:1390.65px;top:830.80px;font-family:'Liberation Sans';font-size:13.77px;font-weight:400;color:#fff;transform:scaleX(1.0043);">08:00</div><div class="t" style="left:1495.22px;top:830.80px;font-family:'Liberation Sans';font-size:13.77px;font-weight:400;color:#fff;transform:scaleX(1.0168);">16:00</div><div class="t" style="left:1383.79px;top:846.32px;font-family:'Liberation Sans';font-size:13.62px;font-weight:400;color:#fff;transform:scaleX(0.9640);">22 Apr 2022</div><div class="t" style="left:1571.66px;top:663.60px;font-family:'Liberation Sans';font-size:13.77px;font-weight:400;color:#f29a1a;transform:scaleX(0.9809);">-0.0013</div><div class="t" style="left:1571.71px;top:679.40px;font-family:'Liberation Sans';font-size:13.77px;font-weight:400;color:#f29a1a;transform:scaleX(0.8927);">-0.12%</div><div class="t" style="left:1638.59px;top:654.56px;font-family:'Liberation Sans';font-size:14.64px;font-weight:400;color:#000;transform:scaleX(0.8900);">1.0797</div><div class="t" style="left:1638.59px;top:686.14px;font-family:'Liberation Sans';font-size:13.48px;font-weight:400;color:#fff;transform:scaleX(0.9665);">1.0789</div>
<svg class="r" style="left:0;top:0" width="1694" height="869" viewBox="0 0 1694 869"><rect x="173.2" y="52" width="1.8" height="21" fill="#f6a12e"/><rect x="175" y="51" width="1" height="23" fill="#000"/><rect x="176" y="51" width="7" height="23" fill="#8a111f"/><line x1="625.5" y1="10" x2="619.5" y2="25" stroke="#9a8670" stroke-width="1.2"/><path d="M163 25.7 V11 M159.4 16.2 L163 10.6 L166.6 16.2" fill="none" stroke="#2db23a" stroke-width="1.6"/><path d="M24.1 46.4 A8.3 8.3 0 1 1 35.7 46.4" fill="none" stroke="#000" stroke-width="1.4"/><path d="M29.9 34.2 L31.2 46 Q29.9 47.2 28.6 46 Z" fill="#000"/><path d="M23.3 41 h1.4 M35.1 41 h1.4 M25 36.2 l1.1 0.9 M34.8 36.2 l-1.1 0.9" stroke="#000" stroke-width="1.1"/><polyline points="352.1,9.4 357.5,8.7 361.7,9.4 366.4,7.6 368.3,9.3 371.2,8.5 373,9.4 378.7,7.2 381.5,8.3 383.4,7.4 386.3,12.1 389.1,13 392.4,15.4 394.8,13.7 396.7,14.6 399,14.2 402.3,11.5 404.2,12.3 407.5,8.5 409.9,12.3 412.7,15.1 415.1,19.4 417,16.8 418.8,18.4 423.1,16.5 428.8,15.6 433,14.4 435.8,15.3" fill="none" stroke="#e8e8e8" stroke-width="1.1"/><polyline points="438.2,14.4 439.6,13.4 442,14.4 444.8,13.4 450,13.4 454.3,15.6" fill="none" stroke="#2ee02a" stroke-width="1.1"/><polyline points="454.3,15.6 460.4,16.8 462.8,17.2 469,18.7 470.8,26 472.7,25.7 476,23.6 478.8,23.1 481.6,23.4 483.5,26.3 485.4,24.7 486.8,25.5" fill="none" stroke="#ff1a1a" stroke-width="1.2"/><path d="M442.6 60.4 L448.6 60.4 L445.6 64.6 Z M523 60.4 L529.2 60.4 L526.1 64.6 Z" fill="#d8d0d4"/><rect x="281.5" y="80.5" width="7" height="6" fill="none" stroke="#b0b0b0" stroke-width="1"/><rect x="281" y="79.5" width="8" height="2.5" fill="#b0b0b0"/><rect x="282.5" y="78" width="1.2" height="2" fill="#b0b0b0"/><rect x="286.3" y="78" width="1.2" height="2" fill="#b0b0b0"/><rect x="394.5" y="80.5" width="7" height="6" fill="none" stroke="#b0b0b0" stroke-width="1"/><rect x="394" y="79.5" width="8" height="2.5" fill="#b0b0b0"/><rect x="395.5" y="78" width="1.2" height="2" fill="#b0b0b0"/><rect x="399.3" y="78" width="1.2" height="2" fill="#b0b0b0"/><path d="M577.3 83.2 L579.8 85.8 L583.8 80.3" fill="none" stroke="#000" stroke-width="1.8"/><path d="M658 89.5 L660 84.5 L668 76.8 L671 79.8 L663 87.5 Z" fill="#dcdcdc"/><path d="M658 89.5 L660.2 84.7 L662.8 87.3 Z" fill="#9a9a9a"/><path d="M340 97.6 L349.4 97.6 L344.7 105.3 Z" fill="#fff"/><path d="M366.8 96.5 V105.5 H379" fill="none" stroke="#cfe0ff" stroke-width="1"/><path d="M367.5 103 L370.5 99.5 L373 101.5 L378.8 97" fill="none" stroke="#cfe0ff" stroke-width="1.1"/><path d="M393.3 95.3 V106.8 M390.7 97.7 H393.3 M393.3 103.6 H397 M399.1 95.3 V106.8 M396.5 104 H399.1 M399.1 98 H401.3" fill="none" stroke="#d0d0d0" stroke-width="1.3"/><path d="M424.9 100 L429.7 100 L427.3 103.6 Z" fill="#ddd"/><path d="M1313.3 96.5 V105.8 M1308.6 101.1 H1318" stroke="#fff" stroke-width="2"/><path d="M1389 100 L1394.6 100 L1391.8 103.4 Z" fill="#ddd"/><path d="M1561.3 97 L1556.8 101.5 L1561.3 106 M1567 97 L1562.5 101.5 L1567 106" fill="none" stroke="#d8d8d8" stroke-width="1.7"/><path d="M1578 106.7 L1579.8 102.5 L1586.8 95.7 L1589.5 98.4 L1582.5 105.2 Z" fill="#e8e8e8"/><g transform="translate(1670.6,101.3)" fill="#e6e6e6"><rect x="-1.1" y="-6.0" width="2.2" height="3.2" transform="rotate(0)"/><rect x="-1.1" y="-6.0" width="2.2" height="3.2" transform="rotate(45)"/><rect x="-1.1" y="-6.0" width="2.2" height="3.2" transform="rotate(90)"/><rect x="-1.1" y="-6.0" width="2.2" height="3.2" transform="rotate(135)"/><rect x="-1.1" y="-6.0" width="2.2" height="3.2" transform="rotate(180)"/><rect x="-1.1" y="-6.0" width="2.2" height="3.2" transform="rotate(225)"/><rect x="-1.1" y="-6.0" width="2.2" height="3.2" transform="rotate(270)"/><rect x="-1.1" y="-6.0" width="2.2" height="3.2" transform="rotate(315)"/><circle r="4.0"/><circle r="1.9" fill="#161616"/></g><path d="M715.5 116.5 Q715.5 121.3 720.3 121.3 Q715.5 121.3 715.5 126.1 Q715.5 121.3 710.7 121.3 Q715.5 121.3 715.5 116.5" fill="none" stroke="#9a9a9a" stroke-width="0.9"/><path d="M715.5 116.5 L720.3 121.3 L715.5 126.1 L710.7 121.3 Z" fill="none" stroke="#9a9a9a" stroke-width="0.9"/><path d="M715.5 115.8 V127 M709.8 121.3 H721.2" stroke="#9a9a9a" stroke-width="0.9"/><path d="M776.8 125.8 L783.3 118.6" stroke="#8a8a8a" stroke-width="2.2"/><path d="M780 125.5 H785" stroke="#9a9a9a" stroke-width="1"/><rect x="858" y="117" width="4" height="3" fill="#8a8a8a"/><path d="M863.3 117.5 H867.3 M863.3 119.7 H867.3 M858 121.6 H867.3 M858 123.6 H867.3 M858 125.7 H867.3" stroke="#8a8a8a" stroke-width="0.9"/><circle cx="922.7" cy="120.3" r="3.8" fill="none" stroke="#9a9a9a" stroke-width="1.1"/><path d="M925.5 123.2 L930 127.3" stroke="#9a9a9a" stroke-width="1.8"/><rect x="17.5" y="126.5" width="6.5" height="6.5" fill="none" stroke="#8a8a8a" stroke-width="1"/><path d="M19 129.8 H22.5" stroke="#8a8a8a" stroke-width="1"/><path d="M20.5 133 V226.5 M20.5 146.7 H24 M20.5 162.6 H24 M20.5 178.6 H24 M20.5 194.5 H24 M20.5 210.5 H24 M20.5 226.4 H24" fill="none" stroke="#8a8a8a" stroke-width="1"/><rect x="27" y="124.0" width="12" height="12" fill="#ffffff"/><rect x="27" y="139.9" width="12" height="12" fill="#f5990f"/><rect x="27" y="203.8" width="12" height="12" fill="#e8109a"/><rect x="27" y="219.7" width="12" height="12" fill="#2fbf3f"/><path d="M27.5 157.5 H38.5 M33 157.5 V168" fill="none" stroke="#a8a8a8" stroke-width="1.2"/><path d="M27 178.3 H39" stroke="#a8a8a8" stroke-width="1"/><circle cx="33" cy="178.3" r="2.2" fill="#0d0d0d" stroke="#a8a8a8" stroke-width="1"/><path d="M33 187.5 V198.5 M27.5 199 H38.5" fill="none" stroke="#a8a8a8" stroke-width="1.2"/></svg>
</body></html>
